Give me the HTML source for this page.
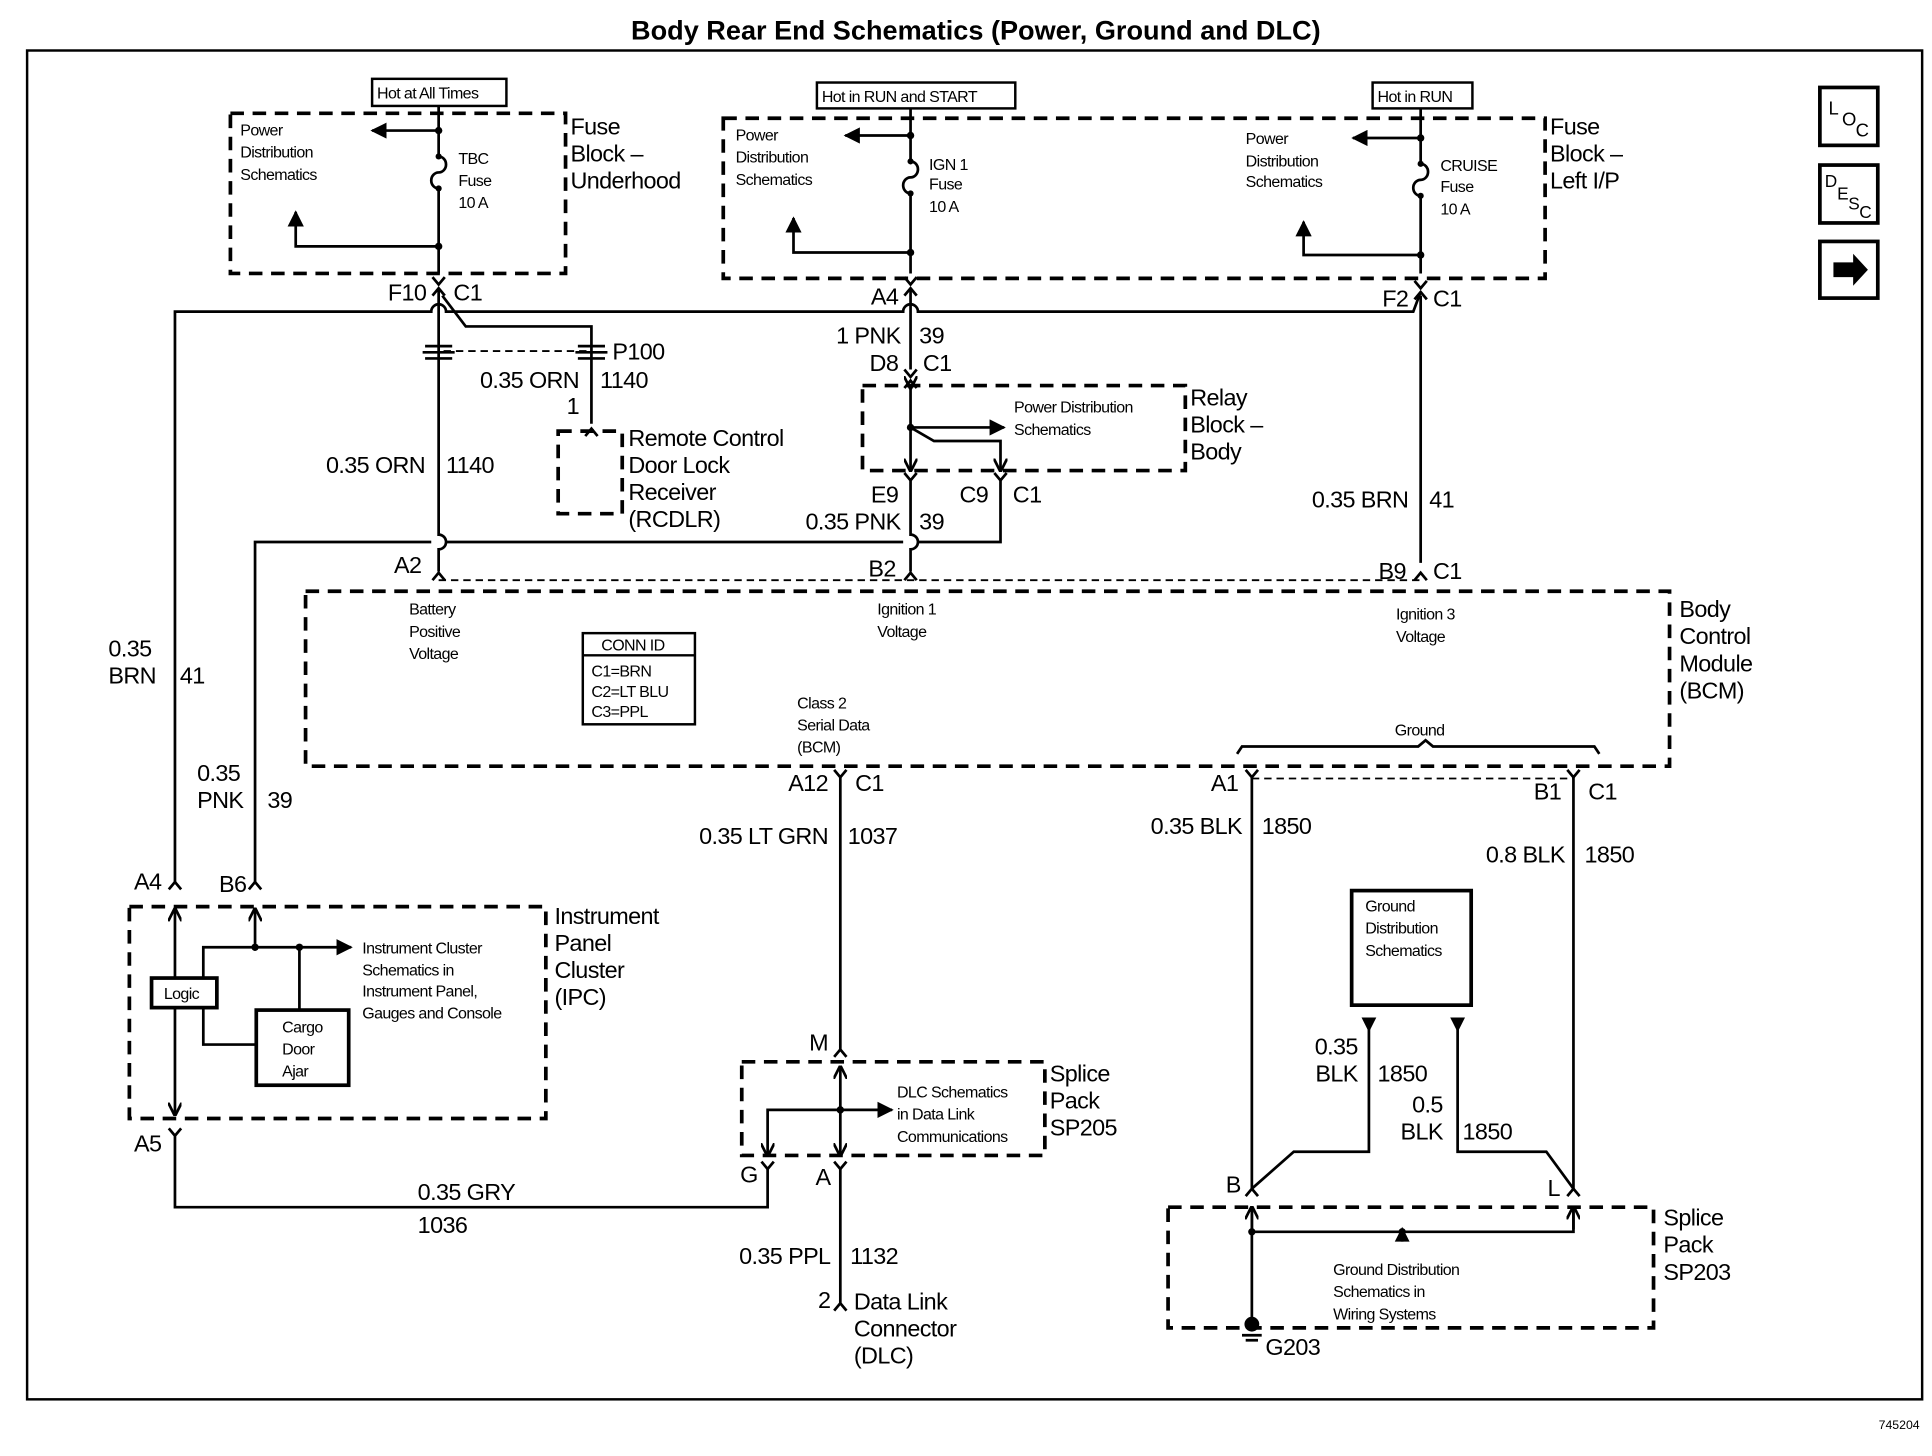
<!DOCTYPE html>
<html><head><meta charset="utf-8"><style>
html,body{margin:0;padding:0;background:#fff;}
svg{display:block;}
text{font-family:"Liberation Sans",Arial,sans-serif;fill:#000;}
.s{font-size:13px;letter-spacing:-0.5px;}
.m{font-size:19px;letter-spacing:-0.5px;}
.b{font-size:19px;letter-spacing:-0.5px;}
</style></head><body>
<svg width="1932" height="1456" viewBox="0 0 1568 1182" preserveAspectRatio="none" xmlns="http://www.w3.org/2000/svg">
<defs>
<marker id="ar" viewBox="0 0 10 10" refX="9" refY="5" markerWidth="6" markerHeight="6" orient="auto"><path d="M0 0L10 5L0 10z" fill="#000"/></marker>
<marker id="ao" viewBox="0 0 10 10" refX="9" refY="5" markerWidth="5" markerHeight="5" orient="auto"><path d="M0 0L10 5L0 10" fill="none" stroke="#000" stroke-width="2"/></marker>
</defs>
<rect width="1568" height="1182" fill="#fff"/>
<text x="792" y="32" font-size="22" font-weight="bold" text-anchor="middle">Body Rear End Schematics (Power, Ground and DLC)</text>
<rect x="22" y="41" width="1538" height="1095" fill="none" stroke="#000" stroke-width="2"/>
<text x="1558" y="1160" font-size="10" text-anchor="end">745204</text>

<g fill="none" stroke="#000" stroke-width="3" stroke-dasharray="11,7">
<rect x="187" y="92" width="272" height="130"/>
<rect x="587" y="96" width="667" height="130"/>
<rect x="700" y="313" width="262" height="69"/>
<rect x="453" y="350" width="52" height="67"/>
<rect x="248" y="480" width="1107" height="142"/>
<rect x="105" y="736" width="338" height="172"/>
<rect x="602" y="862" width="246" height="76"/>
<rect x="948" y="980" width="394" height="98"/>
</g>
<g fill="none" stroke="#000" stroke-width="1.5" stroke-dasharray="6,4">
<line x1="356" y1="471" x2="1153" y2="471"/>
<line x1="1016" y1="632" x2="1277" y2="632"/>
<line x1="360" y1="285" x2="476" y2="285"/>
</g>

<!-- labels boxes -->
<g fill="none" stroke="#000" stroke-width="2">
<rect x="302" y="64" width="109" height="22"/>
<rect x="663" y="67" width="161" height="21"/>
<rect x="1114" y="67" width="81" height="21"/>
<rect x="473" y="514" width="91" height="74"/>
<line x1="473" y1="532" x2="564" y2="532"/>
<rect x="1097" y="723" width="97" height="93" stroke-width="3"/>
<rect x="123" y="794" width="53" height="24" stroke-width="3"/>
<rect x="208" y="820" width="75" height="61" stroke-width="3"/>
<rect x="1477" y="71" width="47" height="47" stroke-width="3"/>
<rect x="1477" y="134" width="47" height="47" stroke-width="3"/>
<rect x="1477" y="196" width="47" height="46" stroke-width="3"/>
</g>
<path d="M1488 213h16v-7l12 13l-12 13v-7h-16z" fill="#000"/>
<text x="1484" y="93" font-size="15">L</text><text x="1495" y="102" font-size="15">O</text><text x="1506" y="111" font-size="15">C</text>
<text x="1481" y="152" font-size="14">D</text><text x="1491" y="162" font-size="14">E</text><text x="1500" y="170" font-size="14">S</text><text x="1509" y="177" font-size="14">C</text>

<g class="s">
<text x="306" y="80">Hot at All Times</text>
<text x="667" y="83">Hot in RUN and START</text>
<text x="1118" y="83">Hot in RUN</text>
<text x="195" y="110">Power</text><text x="195" y="128">Distribution</text><text x="195" y="146">Schematics</text>
<text x="372" y="133">TBC</text><text x="372" y="151">Fuse</text><text x="372" y="169">10 A</text>
<text x="597" y="114">Power</text><text x="597" y="132">Distribution</text><text x="597" y="150">Schematics</text>
<text x="754" y="138">IGN 1</text><text x="754" y="154">Fuse</text><text x="754" y="172">10 A</text>
<text x="1011" y="117">Power</text><text x="1011" y="135">Distribution</text><text x="1011" y="152">Schematics</text>
<text x="1169" y="139">CRUISE</text><text x="1169" y="156">Fuse</text><text x="1169" y="174">10 A</text>
<text x="823" y="335">Power Distribution</text><text x="823" y="353">Schematics</text>
<text x="332" y="499">Battery</text><text x="332" y="517">Positive</text><text x="332" y="535">Voltage</text>
<text x="712" y="499">Ignition 1</text><text x="712" y="517">Voltage</text>
<text x="1133" y="503">Ignition 3</text><text x="1133" y="521">Voltage</text>
<text x="488" y="528">CONN ID</text>
<text x="480" y="549">C1=BRN</text><text x="480" y="566">C2=LT BLU</text><text x="480" y="582">C3=PPL</text>
<text x="647" y="575">Class 2</text><text x="647" y="593">Serial Data</text><text x="647" y="611">(BCM)</text>
<text x="1132" y="597">Ground</text>
<text x="1108" y="740">Ground</text><text x="1108" y="758">Distribution</text><text x="1108" y="776">Schematics</text>
<text x="133" y="811">Logic</text>
<text x="229" y="838">Cargo</text><text x="229" y="856">Door</text><text x="229" y="874">Ajar</text>
<text x="294" y="774">Instrument Cluster</text><text x="294" y="792">Schematics in</text><text x="294" y="809">Instrument Panel,</text><text x="294" y="827">Gauges and Console</text>
<text x="728" y="891">DLC Schematics</text><text x="728" y="909">in Data Link</text><text x="728" y="927">Communications</text>
<text x="1082" y="1035">Ground Distribution</text><text x="1082" y="1053">Schematics in</text><text x="1082" y="1071">Wiring Systems</text>
</g>

<g class="m">
<text x="463" y="109">Fuse</text><text x="463" y="131">Block –</text><text x="463" y="153">Underhood</text>
<text x="1258" y="109">Fuse</text><text x="1258" y="131">Block –</text><text x="1258" y="153">Left I/P</text>
<text x="966" y="329">Relay</text><text x="966" y="351">Block –</text><text x="966" y="373">Body</text>
<text x="510" y="362">Remote Control</text><text x="510" y="384">Door Lock</text><text x="510" y="406">Receiver</text><text x="510" y="428">(RCDLR)</text>
<text x="1363" y="501">Body</text><text x="1363" y="523">Control</text><text x="1363" y="545">Module</text><text x="1363" y="567">(BCM)</text>
<text x="450" y="750">Instrument</text><text x="450" y="772">Panel</text><text x="450" y="794">Cluster</text><text x="450" y="816">(IPC)</text>
<text x="852" y="878">Splice</text><text x="852" y="900">Pack</text><text x="852" y="922">SP205</text>
<text x="1350" y="995">Splice</text><text x="1350" y="1017">Pack</text><text x="1350" y="1039">SP203</text>
<text x="693" y="1063">Data Link</text><text x="693" y="1085">Connector</text><text x="693" y="1107">(DLC)</text>
<text x="346" y="244" text-anchor="end">F10</text><text x="368" y="244">C1</text>
<text x="729" y="247" text-anchor="end">A4</text>
<text x="1143" y="249" text-anchor="end">F2</text><text x="1163" y="249">C1</text>
<text x="497" y="292">P100</text>
<text x="470" y="315" text-anchor="end">0.35 ORN</text><text x="487" y="315">1140</text>
<text x="470" y="336" text-anchor="end">1</text>
<text x="345" y="384" text-anchor="end">0.35 ORN</text><text x="362" y="384">1140</text>
<text x="731" y="279" text-anchor="end">1 PNK</text><text x="746" y="279">39</text>
<text x="729" y="301" text-anchor="end">D8</text><text x="749" y="301">C1</text>
<text x="729" y="408" text-anchor="end">E9</text><text x="802" y="408" text-anchor="end">C9</text><text x="822" y="408">C1</text>
<text x="731" y="430" text-anchor="end">0.35 PNK</text><text x="746" y="430">39</text>
<text x="1143" y="412" text-anchor="end">0.35 BRN</text><text x="1160" y="412">41</text>
<text x="342" y="465" text-anchor="end">A2</text>
<text x="727" y="468" text-anchor="end">B2</text>
<text x="1141" y="470" text-anchor="end">B9</text><text x="1163" y="470">C1</text>
<text x="88" y="533">0.35</text><text x="88" y="555">BRN</text><text x="146" y="555">41</text>
<text x="160" y="634">0.35</text><text x="160" y="656">PNK</text><text x="217" y="656">39</text>
<text x="672" y="642" text-anchor="end">A12</text><text x="694" y="642">C1</text>
<text x="672" y="685" text-anchor="end">0.35 LT GRN</text><text x="688" y="685">1037</text>
<text x="1005" y="642" text-anchor="end">A1</text>
<text x="1267" y="649" text-anchor="end">B1</text><text x="1289" y="649">C1</text>
<text x="1008" y="677" text-anchor="end">0.35 BLK</text><text x="1024" y="677">1850</text>
<text x="1270" y="700" text-anchor="end">0.8 BLK</text><text x="1286" y="700">1850</text>
<text x="131" y="722" text-anchor="end">A4</text><text x="200" y="724" text-anchor="end">B6</text>
<text x="131" y="935" text-anchor="end">A5</text>
<text x="672" y="853" text-anchor="end">M</text>
<text x="615" y="960" text-anchor="end">G</text><text x="674" y="962" text-anchor="end">A</text>
<text x="1102" y="856" text-anchor="end">0.35</text><text x="1102" y="878" text-anchor="end">BLK</text><text x="1118" y="878">1850</text>
<text x="1171" y="903" text-anchor="end">0.5</text><text x="1171" y="925" text-anchor="end">BLK</text><text x="1187" y="925">1850</text>
<text x="1007" y="968" text-anchor="end">B</text><text x="1266" y="971" text-anchor="end">L</text>
<text x="339" y="974">0.35 GRY</text><text x="339" y="1001">1036</text>
<text x="674" y="1026" text-anchor="end">0.35 PPL</text><text x="690" y="1026">1132</text>
<text x="674" y="1062" text-anchor="end">2</text>
<text x="1027" y="1100">G203</text>
</g>

<g fill="none" stroke="#000" stroke-width="2.2">
<!-- fuse block underhood -->
<path d="M356 86V127M356 153V222"/>
<path d="M356 127a6 6.5 0 0 1 0 13a6 6.5 0 0 0 0 13"/>
<path d="M356 106H302" marker-end="url(#ar)"/>
<path d="M356 200H240V172" marker-end="url(#ar)"/>
<!-- left I/P -->
<path d="M739 88V131M739 157V222"/>
<path d="M739 131a6 6.5 0 0 1 0 13a6 6.5 0 0 0 0 13"/>
<path d="M739 110H686" marker-end="url(#ar)"/>
<path d="M739 205H644V177" marker-end="url(#ar)"/>
<path d="M1153 88V133M1153 159V222"/>
<path d="M1153 133a6 6.5 0 0 1 0 13a6 6.5 0 0 0 0 13"/>
<path d="M1153 112H1098" marker-end="url(#ar)"/>
<path d="M1153 207H1058V180" marker-end="url(#ar)"/>
<!-- connectors at bottom of fuse blocks -->
<path d="M351 225l5 6l5-6M351 240l5-6l5 6M734 225l5 6l5-6M734 240l5-6l5 6M1148 228l5 6l5-6M1148 243l5-6l5 6"/>
<!-- BRN 41 main -->
<path d="M1153 237L1147 253H745a6 6 0 0 0-12 0H362a6 6 0 0 0-12 0H142V716"/>
<path d="M1153 240V457"/>
<!-- F10 wire -->
<path d="M356 234V434a6 6 0 0 1 0 12V464"/>
<path d="M359 240L378 265H480V344"/>
<!-- P100 -->
<path d="M345 281h22M343 286h26M345 291h22M469 281h22M467 286h26M469 291h22"/>
<path d="M475 354l5-6l5 6"/>
<!-- PNK -->
<path d="M739 234V300M734 300l5 6l5-6M734 315l5-6l5 6"/>
<path d="M739 315V382" marker-start="url(#ao)" marker-end="url(#ao)"/>
<path d="M739 347H815" marker-end="url(#ar)"/>
<path d="M739 347L758 358H812V382" marker-end="url(#ao)"/>
<path d="M734 384l5 6l5-6M807 384l5 6l5-6"/>
<path d="M739 390V434a6 6 0 0 1 0 12V464"/>
<path d="M812 390V440H745M733 440H362M350 440H207V716"/>
<!-- BCM top connectors -->
<path d="M351 471l5-6l5 6M734 471l5-6l5 6M1148 471l5-6l5 6"/>
<!-- ground bracket -->
<path d="M1004 612l4-6H1151l6-5l6 5H1294l4 6"/>
<!-- BCM bottom -->
<path d="M677 625l5 6l5-6M1011 625l5 6l5-6M1272 625l5 6l5-6"/>
<path d="M682 630V852M677 858l5-6l5 6"/>
<path d="M1016 630V965M1277 630V965"/>
<path d="M1011 971l5-6l5 6M1272 971l5-6l5 6"/>
<path d="M1111 826V935H1050L1016 965M1183 826V935H1255L1277 965"/>
<!-- SP203 -->
<path d="M1016 998V980" marker-end="url(#ao)"/>
<path d="M1277 998V980" marker-end="url(#ao)"/>
<path d="M1016 980V1072M1016 1000H1277V982M1138 1000V1008"/>
<path d="M1008 1084h16M1011 1088h10"/>
<!-- SP205 -->
<path d="M682 901V866" marker-end="url(#ao)"/>
<path d="M682 901V938" marker-end="url(#ao)"/>
<path d="M682 901H724" marker-end="url(#ar)"/>
<path d="M682 901H623V938" marker-end="url(#ao)"/>
<path d="M618 943l5 6l5-6M677 943l5 6l5-6"/>
<path d="M623 948V980H142V922M137 916l5 6l5-6"/>
<path d="M682 948V1058M677 1064l5-6l5 6"/>
<!-- IPC -->
<path d="M137 722l5-6l5 6M202 722l5-6l5 6"/>
<path d="M142 794V738" marker-end="url(#ao)"/>
<path d="M142 818V905" marker-end="url(#ao)"/>
<path d="M207 769V738" marker-end="url(#ao)"/>
<path d="M165 794V769H285" marker-end="url(#ar)"/>
<path d="M243 769V820M165 818V848H208"/>
</g>
<g fill="#000">
<circle cx="356" cy="106" r="3"/><circle cx="356" cy="200" r="3"/><circle cx="356" cy="127" r="2.5"/><circle cx="356" cy="153" r="2.5"/>
<circle cx="739" cy="110" r="3"/><circle cx="739" cy="205" r="3"/><circle cx="739" cy="131" r="2.5"/><circle cx="739" cy="157" r="2.5"/>
<circle cx="1153" cy="112" r="3"/><circle cx="1153" cy="207" r="3"/><circle cx="1153" cy="133" r="2.5"/><circle cx="1153" cy="159" r="2.5"/>
<circle cx="739" cy="347" r="3"/>
<path d="M1105 826h12l-6 12z"/><path d="M1177 826h12l-6 12z"/>
<path d="M1132 1008h12l-6-12z"/>
<circle cx="1016" cy="1000" r="3"/><circle cx="1138" cy="1000" r="3"/>
<circle cx="1016" cy="1075" r="6"/>
<circle cx="682" cy="901" r="3"/>
<circle cx="207" cy="769" r="3"/><circle cx="243" cy="769" r="3"/>
</g>
</svg>
</body></html>
